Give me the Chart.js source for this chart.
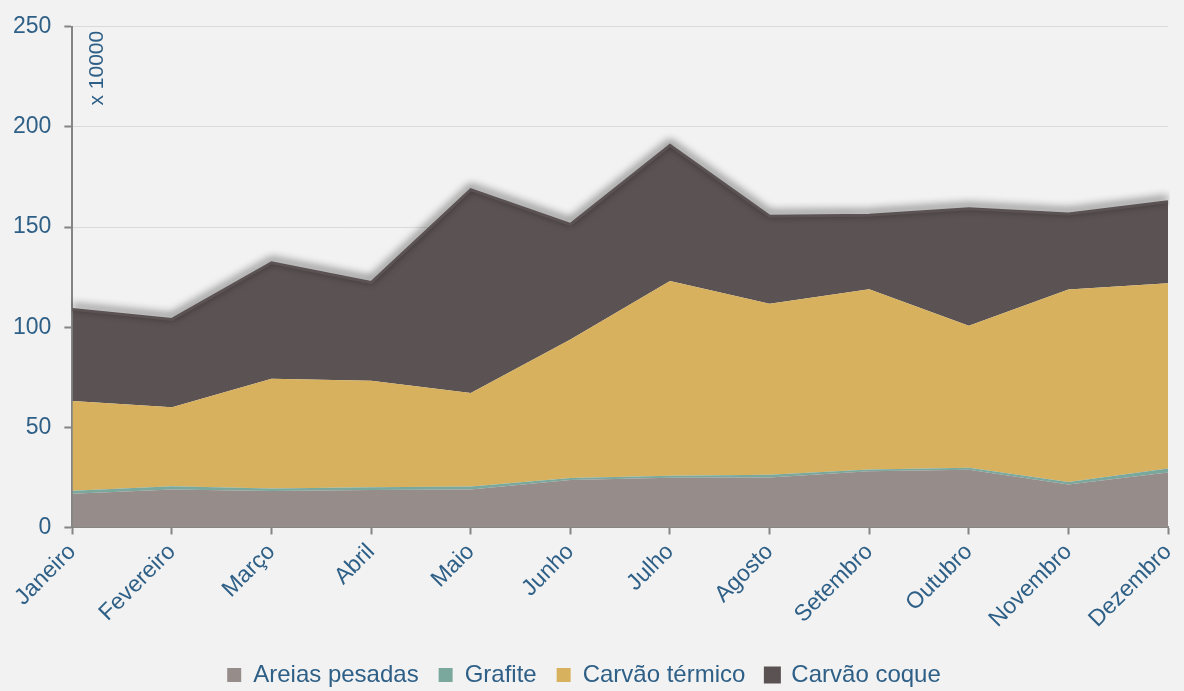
<!DOCTYPE html>
<html>
<head>
<meta charset="utf-8">
<style>
  html, body { margin: 0; padding: 0; background: #f2f2f2; }
  #wrap { width: 1184px; height: 691px; }
</style>
</head>
<body>
<div id="wrap"><canvas id="areaChart"></canvas></div>
<script src="https://cdn.jsdelivr.net/npm/chart.js"></script>
<script>
// months on the x axis
const months = ["Janeiro", "Fevereiro", "Março", "Abril", "Maio", "Junho",
  "Julho", "Agosto", "Setembro", "Outubro", "Novembro", "Dezembro"];

// values (x 10000), stacked
const areiasPesadas = [16.8, 19.0, 18.2, 18.7, 18.9, 23.7, 24.8, 25.0, 28.1, 28.8, 21.5, 27.5];
const grafite = [1.5, 1.6, 1.3, 1.4, 1.5, 1.0, 1.0, 1.3, 0.8, 1.0, 1.2, 2.0];
const carvaoTermico = [44.9, 39.4, 54.7, 53.1, 46.8, 69.1, 97.3, 85.4, 90.0, 70.9, 96.1, 92.4];
const carvaoCoque = [45.7, 43.9, 58.0, 49.1, 101.5, 57.5, 67.7, 43.7, 37.0, 58.4, 37.7, 40.7];

const yTicks = [0, 50, 100, 150, 200, 250];

const textColor = "#2e5f86";
const axisColor = "#858585";

// shadow above the top (coque) edge
const shadowPlugin = {
  id: "topShadow",
  beforeDatasetDraw(chart, args) {
    if (args.index === 3) {
      chart.ctx.save();
      chart.ctx.shadowColor = "rgba(0,0,0,0.9)";
      chart.ctx.shadowBlur = 8;
      chart.ctx.shadowOffsetY = -3;
    }
  },
  afterDatasetDraw(chart, args) {
    if (args.index === 3) chart.ctx.restore();
  }
};

// "x 10000" unit note
const unitPlugin = {
  id: "unitNote",
  afterDraw(chart) {
    const ctx = chart.ctx;
    ctx.save();
    ctx.translate(chart.chartArea.left + 25, chart.chartArea.top + 4);
    ctx.rotate(-Math.PI / 2);
    ctx.font = "21px 'Liberation Sans', Arial, sans-serif";
    ctx.fillStyle = textColor;
    ctx.textAlign = "right";
    ctx.textBaseline = "middle";
    ctx.fillText("x 10000", 0, 0);
    ctx.restore();
  }
};

Chart.defaults.font.family = "'Liberation Sans', Arial, sans-serif";
Chart.defaults.color = textColor;

new Chart(document.getElementById("areaChart"), {
  type: "line",
  data: {
    labels: months,
    datasets: [
      { label: "Areias pesadas", data: areiasPesadas, backgroundColor: "#968c8a", borderWidth: 0, fill: "origin" },
      { label: "Grafite", data: grafite, backgroundColor: "#7ba89d", borderWidth: 0, fill: "-1" },
      { label: "Carvão térmico", data: carvaoTermico, backgroundColor: "#d7b15e", borderWidth: 0, fill: "-1" },
      { label: "Carvão coque", data: carvaoCoque, backgroundColor: "#5b5253", borderColor: "#5b5253", borderWidth: 3, fill: "-1" }
    ]
  },
  options: {
    responsive: true,
    maintainAspectRatio: false,
    animation: false,
    elements: { point: { radius: 0 }, line: { tension: 0 } },
    layout: { padding: { left: 0, right: 16, top: 5, bottom: -6 } },
    scales: {
      x: {
        stacked: true,
        offset: false,
        afterFit(axis) {
          axis.paddingRight = 0;
          axis.height += 6;
        },
        grid: { drawOnChartArea: false, tickLength: 7, tickColor: axisColor, tickWidth: 2 },
        border: { color: axisColor, width: 2 },
        ticks: { maxRotation: 45, minRotation: 45, font: { size: 23 }, color: textColor, padding: 4 }
      },
      y: {
        stacked: true,
        min: 0,
        max: 250,
        afterBuildTicks(axis) { axis.ticks = yTicks.map(v => ({ value: v })); },
        grid: { color: "#dadada", tickLength: 8, tickColor: axisColor, tickWidth: 2 },
        border: { color: axisColor, width: 2 },
        ticks: { font: { size: 23 }, color: textColor, padding: 13 }
      }
    },
    plugins: {
      legend: {
        position: "bottom",
        labels: { boxWidth: 14, boxHeight: 14, font: { size: 24 }, color: textColor, padding: 20 }
      },
      tooltip: { enabled: false }
    }
  },
  plugins: [shadowPlugin, unitPlugin]
});
</script>
</body>
</html>
